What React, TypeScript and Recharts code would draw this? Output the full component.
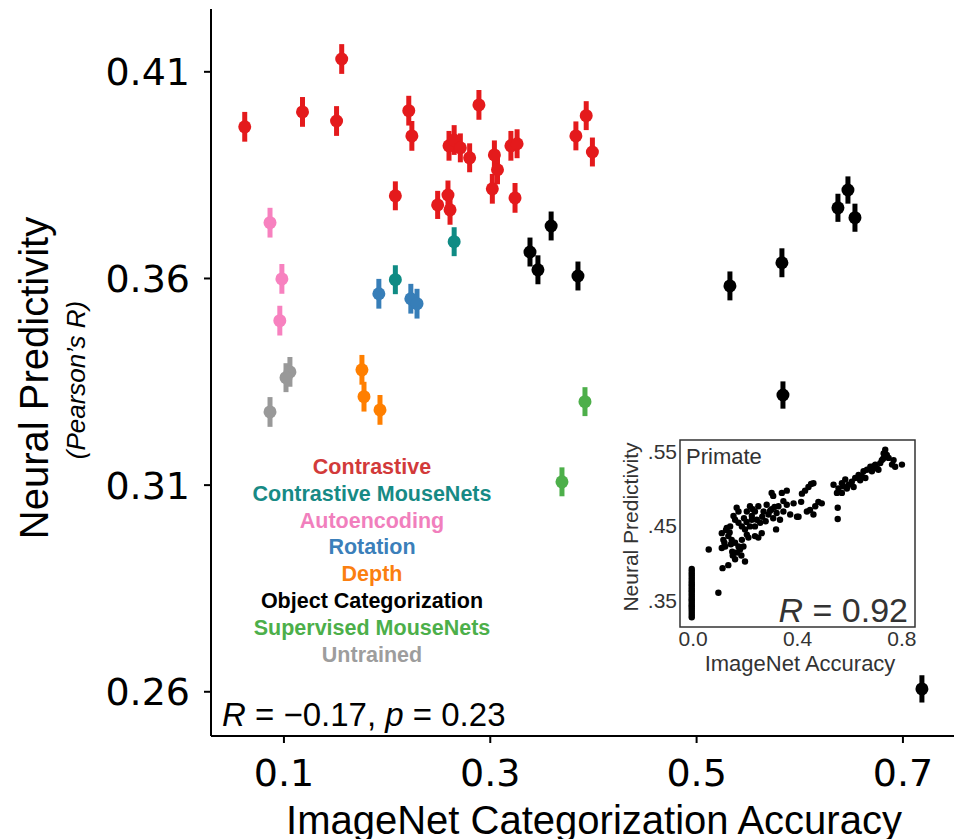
import React from 'react';
import {
  ScatterChart,
  Scatter,
  XAxis,
  YAxis,
  ErrorBar,
  ReferenceArea,
  Customized
} from 'recharts';

// main panel: ImageNet accuracy (x) vs neural predictivity (y), e = error bar half length
const contrastive = [
  { x: 0.062, y: 0.3967, e: 0.0036 },
  { x: 0.118, y: 0.4003, e: 0.0036 },
  { x: 0.151, y: 0.3981, e: 0.0036 },
  { x: 0.156, y: 0.4131, e: 0.0036 },
  { x: 0.208, y: 0.3800, e: 0.0035 },
  { x: 0.221, y: 0.4006, e: 0.0036 },
  { x: 0.224, y: 0.3945, e: 0.0036 },
  { x: 0.249, y: 0.3778, e: 0.0034 },
  { x: 0.259, y: 0.3802, e: 0.0035 },
  { x: 0.261, y: 0.3766, e: 0.0036 },
  { x: 0.260, y: 0.3921, e: 0.0036 },
  { x: 0.265, y: 0.3935, e: 0.0036 },
  { x: 0.271, y: 0.3916, e: 0.0035 },
  { x: 0.280, y: 0.3892, e: 0.0035 },
  { x: 0.289, y: 0.4020, e: 0.0036 },
  { x: 0.304, y: 0.3899, e: 0.0035 },
  { x: 0.307, y: 0.3863, e: 0.0035 },
  { x: 0.302, y: 0.3817, e: 0.0036 },
  { x: 0.320, y: 0.3921, e: 0.0036 },
  { x: 0.326, y: 0.3926, e: 0.0035 },
  { x: 0.324, y: 0.3795, e: 0.0036 },
  { x: 0.383, y: 0.3945, e: 0.0035 },
  { x: 0.393, y: 0.3994, e: 0.0035 },
  { x: 0.399, y: 0.3906, e: 0.0035 }
];
const contrastiveMouseNets = [
  { x: 0.265, y: 0.3689, e: 0.0035 },
  { x: 0.208, y: 0.3597, e: 0.0035 }
];
const autoencoding = [
  { x: 0.0865, y: 0.3735, e: 0.0036 },
  { x: 0.098, y: 0.3599, e: 0.0036 },
  { x: 0.096, y: 0.3498, e: 0.0036 }
];
const rotation = [
  { x: 0.192, y: 0.3563, e: 0.0036 },
  { x: 0.223, y: 0.3551, e: 0.0036 },
  { x: 0.229, y: 0.3539, e: 0.0036 }
];
const depth = [
  { x: 0.1756, y: 0.3379, e: 0.0036 },
  { x: 0.1776, y: 0.3314, e: 0.0036 },
  { x: 0.1931, y: 0.3282, e: 0.0036 }
];
const objectCategorization = [
  { x: 0.359, y: 0.3727, e: 0.0035 },
  { x: 0.3385, y: 0.3664, e: 0.0035 },
  { x: 0.3462, y: 0.3621, e: 0.0035 },
  { x: 0.385, y: 0.3606, e: 0.0035 },
  { x: 0.5323, y: 0.3582, e: 0.0035 },
  { x: 0.5827, y: 0.3638, e: 0.0035 },
  { x: 0.5837, y: 0.3318, e: 0.0033 },
  { x: 0.637, y: 0.3771, e: 0.0034 },
  { x: 0.6467, y: 0.3814, e: 0.0033 },
  { x: 0.6535, y: 0.3747, e: 0.0034 },
  { x: 0.7184, y: 0.2607, e: 0.0033 }
];
const supervisedMouseNets = [
  { x: 0.3918, y: 0.3302, e: 0.0035 },
  { x: 0.3695, y: 0.3108, e: 0.0035 }
];
const untrained = [
  { x: 0.1058, y: 0.3374, e: 0.0036 },
  { x: 0.102, y: 0.336, e: 0.0035 },
  { x: 0.0865, y: 0.3277, e: 0.0036 }
];

const groups = [
  { name: 'Contrastive', data: contrastive, color: '#e41a1c', text: '#d23a3a' },
  { name: 'Contrastive MouseNets', data: contrastiveMouseNets, color: '#0f8b84', text: '#178a85' },
  { name: 'Autoencoding', data: autoencoding, color: '#f781bf', text: '#f17fbd' },
  { name: 'Rotation', data: rotation, color: '#377eb8', text: '#3b7fba' },
  { name: 'Depth', data: depth, color: '#ff7f00', text: '#fb7f10' },
  { name: 'Object Categorization', data: objectCategorization, color: '#000000', text: '#000000' },
  { name: 'Supervised MouseNets', data: supervisedMouseNets, color: '#4daf4a', text: '#4caf4a' },
  { name: 'Untrained', data: untrained, color: '#999999', text: '#9d9d9d' }
];

const xTicks = [0.1, 0.3, 0.5, 0.7];
const yTicks = [0.26, 0.31, 0.36, 0.41];

// inset (primate): untrained column at ~0 accuracy, then the trained models
const primateColumnY = [
  0.327, 0.330, 0.333, 0.336, 0.339, 0.342, 0.344, 0.347, 0.350, 0.352, 0.355, 0.358,
  0.361, 0.363, 0.366, 0.369, 0.371, 0.374, 0.377, 0.380, 0.383, 0.386, 0.389, 0.392
];
const primatePoints = [
  [0.060, 0.418], [0.097, 0.360], [0.113, 0.393], [0.135, 0.397], [0.152, 0.410],
  [0.161, 0.405], [0.199, 0.402], [0.110, 0.440], [0.116, 0.431], [0.110, 0.420],
  [0.123, 0.422], [0.129, 0.447], [0.142, 0.449], [0.135, 0.436], [0.148, 0.431],
  [0.161, 0.427], [0.174, 0.422], [0.180, 0.418], [0.187, 0.431], [0.193, 0.422],
  [0.167, 0.474], [0.174, 0.469], [0.161, 0.458], [0.155, 0.463], [0.174, 0.454],
  [0.187, 0.449], [0.199, 0.445], [0.206, 0.438], [0.212, 0.434], [0.206, 0.469],
  [0.218, 0.476], [0.225, 0.463], [0.237, 0.469], [0.250, 0.476], [0.244, 0.458],
  [0.257, 0.454], [0.237, 0.449], [0.218, 0.449], [0.263, 0.440], [0.250, 0.434],
  [0.237, 0.436], [0.270, 0.469], [0.282, 0.478], [0.289, 0.465], [0.301, 0.472],
  [0.307, 0.460], [0.320, 0.467], [0.327, 0.476], [0.333, 0.458], [0.346, 0.469],
  [0.359, 0.478], [0.301, 0.494], [0.307, 0.490], [0.340, 0.494], [0.359, 0.497],
  [0.346, 0.483], [0.372, 0.465], [0.318, 0.445], [0.398, 0.462], [0.385, 0.480],
  [0.126, 0.444], [0.140, 0.441], [0.150, 0.415], [0.168, 0.414], [0.185, 0.410],
  [0.120, 0.427], [0.145, 0.425], [0.195, 0.460], [0.205, 0.455], [0.228, 0.472],
  [0.265, 0.462], [0.278, 0.456], [0.295, 0.470], [0.312, 0.475], [0.225, 0.458],
  [0.404, 0.462], [0.414, 0.482], [0.417, 0.493], [0.429, 0.497], [0.442, 0.502],
  [0.452, 0.506], [0.461, 0.507], [0.436, 0.469], [0.448, 0.471], [0.468, 0.476],
  [0.480, 0.482], [0.493, 0.480], [0.461, 0.465], [0.554, 0.474], [0.554, 0.459],
  [0.538, 0.505], [0.551, 0.494], [0.557, 0.500], [0.570, 0.507], [0.583, 0.512],
  [0.596, 0.505], [0.608, 0.509], [0.589, 0.500], [0.615, 0.502], [0.621, 0.514],
  [0.634, 0.518], [0.647, 0.516], [0.653, 0.523], [0.666, 0.525], [0.679, 0.529],
  [0.685, 0.523], [0.698, 0.532], [0.704, 0.527], [0.717, 0.534], [0.723, 0.538],
  [0.730, 0.547], [0.736, 0.552], [0.742, 0.545], [0.749, 0.541], [0.762, 0.532],
  [0.774, 0.529], [0.800, 0.532], [0.768, 0.538], [0.660, 0.514], [0.710, 0.525],
  [0.570, 0.494], [0.640, 0.511], [0.692, 0.530], [0.728, 0.540], [0.575, 0.503]
];

const insetData = [
  ...primateColumnY.map(y => ({ x: -0.005, y })),
  ...primatePoints.map(([x, y]) => ({ x, y }))
];
const insetXTicks = [0, 0.4, 0.8];
const insetYTicks = [0.35, 0.45, 0.55];

const FONT = '"Liberation Sans", Arial, Helvetica, sans-serif';
const TICK_FONT = '"DejaVu Sans", sans-serif';

const Overlay = () => (
  <g fontFamily={FONT}>
    <text x={48} y={378} fontSize={40} textAnchor="middle" transform="rotate(-90 48 378)" fill="#000">
      Neural Predictivity
    </text>
    <text x={85} y={380} fontSize={26} fontStyle="italic" textAnchor="middle" transform="rotate(-90 85 380)" fill="#000">
      (Pearson’s R)
    </text>
    <text x={594} y={834} fontSize={40} textAnchor="middle" fill="#000">
      ImageNet Categorization Accuracy
    </text>
    {groups.map((g, i) => (
      <text key={g.name} x={372} y={474 + i * 26.8} fontSize={21.5} fontWeight="bold" textAnchor="middle" fill={g.text}>
        {g.name}
      </text>
    ))}
    <text x={222} y={726} fontSize={33} fill="#000">
      <tspan fontStyle="italic">R</tspan> = −0.17, <tspan fontStyle="italic">p</tspan> = 0.23
    </text>
  </g>
);

const InsetOverlay = () => (
  <g fontFamily={FONT} fill="#333">
    <text x={86} y={44} fontSize={22}>Primate</text>
    <text x={38} y={107} fontSize={21} textAnchor="middle" transform="rotate(-90 38 107)">
      Neural Predictivity
    </text>
    <text x={200} y={251} fontSize={22} textAnchor="middle">ImageNet Accuracy</text>
    <text x={308} y={202} fontSize={34} textAnchor="end">
      <tspan fontStyle="italic">R</tspan> = 0.92
    </text>
  </g>
);

const dot = (color: string, r: number) => (p: any) => (
  <circle cx={p.cx} cy={p.cy} r={r} fill={color} />
);

export default function App() {
  return (
    <div style={{ position: 'absolute', left: 0, top: 0, width: 954, height: 839, background: '#fff' }}>
      <ScatterChart width={954} height={839} margin={{ top: 9, right: 0, bottom: 0, left: 0 }}>
        <XAxis
          type="number"
          dataKey="x"
          domain={[0.0293, 0.7495]}
          allowDataOverflow
          ticks={xTicks}
          tickFormatter={(v: number) => v.toFixed(1)}
          height={103}
          tickSize={7}
          tickMargin={16}
          axisLine={{ stroke: '#000', strokeWidth: 2 }}
          tickLine={{ stroke: '#000', strokeWidth: 2 }}
          tick={{ fill: '#000', fontSize: 38, fontFamily: TICK_FONT }}
        />
        <YAxis
          type="number"
          dataKey="y"
          domain={[0.2493, 0.4252]}
          allowDataOverflow
          ticks={yTicks}
          tickFormatter={(v: number) => v.toFixed(2)}
          width={211}
          tickSize={7}
          tickMargin={14}
          axisLine={{ stroke: '#000', strokeWidth: 2 }}
          tickLine={{ stroke: '#000', strokeWidth: 2 }}
          tick={{ fill: '#000', fontSize: 38, fontFamily: TICK_FONT }}
        />
        {groups.map(g => (
          <Scatter key={g.name} name={g.name} data={g.data} shape={dot(g.color, 6.5)} isAnimationActive={false}>
            <ErrorBar dataKey="e" direction="y" width={0} strokeWidth={5} stroke={g.color} isAnimationActive={false} />
          </Scatter>
        ))}
        <Customized component={Overlay} />
      </ScatterChart>

      <div style={{ position: 'absolute', left: 600, top: 420 }}>
        <ScatterChart width={340} height={260} margin={{ top: 20, right: 25, bottom: 0, left: 0 }}>
          <XAxis
            type="number"
            dataKey="x"
            domain={[-0.05, 0.85]}
            allowDataOverflow
            ticks={insetXTicks}
            tickFormatter={(v: number) => v.toFixed(1)}
            height={53}
            tickSize={0}
            tickMargin={4}
            axisLine={false}
            tick={{ fill: '#333', fontSize: 21, fontFamily: FONT }}
          />
          <YAxis
            type="number"
            dataKey="y"
            domain={[0.314, 0.565]}
            allowDataOverflow
            ticks={insetYTicks}
            tickFormatter={(v: number) => v.toFixed(2).replace(/^0/, '')}
            width={80}
            tickSize={0}
            tickMargin={3}
            axisLine={false}
            tick={{ fill: '#333', fontSize: 21, fontFamily: FONT }}
          />
          <ReferenceArea x1={-0.05} x2={0.85} y1={0.314} y2={0.565} fill="none" fillOpacity={0} stroke="#333" strokeWidth={1.5} ifOverflow="visible" />
          <Scatter data={insetData} shape={dot('#000', 3.2)} isAnimationActive={false} />
          <Customized component={InsetOverlay} />
        </ScatterChart>
      </div>
    </div>
  );
}
